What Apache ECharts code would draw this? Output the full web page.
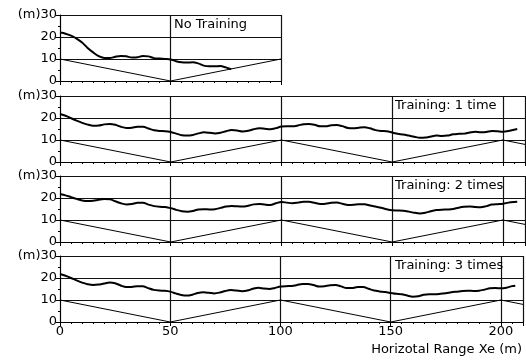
<!DOCTYPE html>
<html><head><meta charset="utf-8">
<script src="https://cdn.jsdelivr.net/npm/echarts@6/dist/echarts.min.js"></script>
<style>html,body{margin:0;padding:0;background:#fff}#c{width:526px;height:363px}</style>
</head><body><div id="c"></div>
<script>
// Sampling positions (m)
const xNoTrain = [0,2.5,5,7.5,10,12.5,15,17.5,20,22.5,25,27.5,30,32.5,35,37.5,40,42.5,45,47.5,50,52.5,55,57.5,60,62.5,65,67.5,70,72.5,75,77.5];
const xTrain = [0,2.5,5,7.5,10,12.5,15,17.5,20,22.5,25,27.5,30,32.5,35,37.5,40,42.5,45,47.5,50,52.5,55,57.5,60,62.5,65,67.5,70,72.5,75,77.5,80,82.5,85,87.5,90,92.5,95,97.5,100,102.5,105,107.5,110,112.5,115,117.5,120,122.5,125,127.5,130,132.5,135,137.5,140,142.5,145,147.5,150,152.5,155,157.5,160,162.5,165,167.5,170,172.5,175,177.5,180,182.5,185,187.5,190,192.5,195,197.5,200,202.5,205,206.5];

// Heights (m)
const hNoTrain = [22,21.5,20.6,19.3,17.5,15,13,11.3,10.5,10.4,11.0,11.4,11.2,10.7,10.8,11.4,11.2,10.4,10.2,10.0,9.8,9.0,8.5,8.4,8.5,8.0,7.0,6.7,6.7,6.8,6.2,5.4];
const hTrain1 = [21.8,21.0,19.9,18.8,17.8,17.0,16.5,16.6,17.1,17.3,16.9,16.0,15.5,15.6,16.0,16.0,15.2,14.4,14.1,14.0,13.6,12.9,12.2,12.0,12.3,13.0,13.5,13.3,13.0,13.3,14.0,14.5,14.3,13.9,14.2,14.9,15.3,15.1,14.9,15.4,16.1,16.3,16.2,16.6,17.2,17.3,16.9,16.2,16.2,16.7,16.8,16.3,15.5,15.3,15.6,15.8,15.3,14.5,14.1,14.0,13.4,12.8,12.5,12.0,11.5,11.0,11.1,11.6,12.0,11.8,12.0,12.6,12.8,12.9,13.4,13.8,13.5,13.6,14.1,14.0,13.8,14.1,14.7,15.0];
const hTrain2 = [21.8,21.2,20.4,19.6,18.9,18.6,18.8,19.2,19.5,19.4,18.5,17.6,17.1,17.3,17.8,17.8,17.0,16.3,16.0,15.9,15.4,14.6,14.0,13.8,14.1,14.8,14.9,14.8,14.9,15.5,16.1,16.4,16.2,16.1,16.5,17.1,17.3,17.0,16.8,17.6,18.2,17.9,17.6,17.9,18.3,18.3,17.8,17.3,17.4,17.8,17.9,17.4,16.8,16.9,17.2,17.2,16.6,16.1,15.6,14.9,14.4,14.3,14.2,13.8,13.3,13.0,13.3,14.0,14.5,14.7,14.8,15.0,15.6,16.0,16.1,15.9,15.8,16.3,17.0,17.2,17.4,17.9,18.2,18.3];
const hTrain3 = [21.8,21.0,20.0,18.9,17.9,17.2,16.8,17.0,17.5,17.9,17.6,16.6,15.9,15.9,16.3,16.3,15.4,14.6,14.3,14.2,13.8,13.0,12.3,12.0,12.4,13.2,13.5,13.3,13.0,13.4,14.1,14.5,14.3,14.0,14.3,15.1,15.6,15.2,15.0,15.5,16.1,16.3,16.4,16.8,17.3,17.3,16.8,16.1,16.3,16.7,16.8,16.2,15.4,15.4,15.9,15.9,15.1,14.3,13.9,13.6,13.2,12.8,12.6,12.0,11.5,11.7,12.4,12.6,12.6,12.8,13.1,13.5,13.8,14.1,14.2,14.1,14.2,14.7,15.3,15.4,15.3,15.6,16.3,16.5];

// Zig-zag reference path
const zigX = [0,50,100,150,200,210];
const zigY = [10,0,10,0,10,8];
const zigXTop = [0,50,100];
const zigYTop = [10,0,10];

const yTicks = [0,10,20,30];
const xTickLabels = ['0','50','100','150','200'];
const panelLabels = ['No Training','Training: 1 time','Training: 2 times','Training: 3 times'];
const xAxisTitle = 'Horizotal Range Xe (m)';

const FONT = 'DejaVu Sans';
const pair = (xs, ys) => xs.map((x, i) => [x, ys[i]]);

const tops = [15, 96, 176, 256];
const grids = tops.map((t, i) => ({left: 60, top: t, height: 66, width: i === 0 ? 221 : 465}));

const xAxes = grids.map((g, i) => ({
  type: 'value', gridIndex: i, min: 0, max: i === 0 ? 100 : 210, interval: 50,
  axisLine: {show: true, onZero: false, lineStyle: {color: '#000', width: 1}},
  axisTick: {show: true, length: 4, inside: false, lineStyle: {color: '#000'}},
  minorTick: {show: true, splitNumber: 10, length: 2, lineStyle: {color: '#000'}},
  splitLine: {show: true, lineStyle: {color: '#111', width: 1.2}},
  axisLabel: {show: i === 3, color: '#000', fontFamily: FONT, fontSize: 13, margin: 3,
    formatter: v => xTickLabels[v / 50] || ''}
}));

const yAxes = grids.map((g, i) => ({
  type: 'value', gridIndex: i, min: 0, max: 30, interval: 10,
  axisLine: {show: true, lineStyle: {color: '#000', width: 1}},
  axisTick: {show: true, length: 4, lineStyle: {color: '#000'}},
  minorTick: {show: true, splitNumber: 2, length: 2, lineStyle: {color: '#000'}},
  splitLine: {show: true, lineStyle: {color: '#111', width: 1.2}},
  axisLabel: {color: '#000', fontFamily: FONT, fontSize: 13, margin: 3,
    formatter: v => (v === 30 ? '(m)' : '') + yTicks[v / 10]}
}));

const heights = [[xNoTrain, hNoTrain], [xTrain, hTrain1], [xTrain, hTrain2], [xTrain, hTrain3]];
const series = [];
heights.forEach(([xs, hs], i) => {
  series.push({type: 'line', xAxisIndex: i, yAxisIndex: i, data: pair(xs, hs), symbol: 'none',
    smooth: 0.3, lineStyle: {color: '#000', width: 2}, silent: true, animation: false});
  series.push({type: 'line', xAxisIndex: i, yAxisIndex: i,
    data: i === 0 ? pair(zigXTop, zigYTop) : pair(zigX, zigY), symbol: 'none',
    lineStyle: {color: '#000', width: 1}, silent: true, animation: false});
});

const labelLeft = [174, 395, 395, 395];
const title = panelLabels.map((t, i) => ({
  text: t, left: labelLeft[i], top: tops[i] + 3,
  textStyle: {fontFamily: FONT, fontSize: 13, fontWeight: 'normal', color: '#000'}, padding: 0
}));
title.push({text: xAxisTitle, right: 4, top: 343, padding: 0,
  textStyle: {fontFamily: FONT, fontSize: 13, fontWeight: 'normal', color: '#000'}});

const chart = echarts.init(document.getElementById('c'), null, {renderer: 'canvas'});
chart.setOption({
  animation: false, backgroundColor: '#fff',
  title, grid: grids, xAxis: xAxes, yAxis: yAxes, series
});
</script></body></html>
